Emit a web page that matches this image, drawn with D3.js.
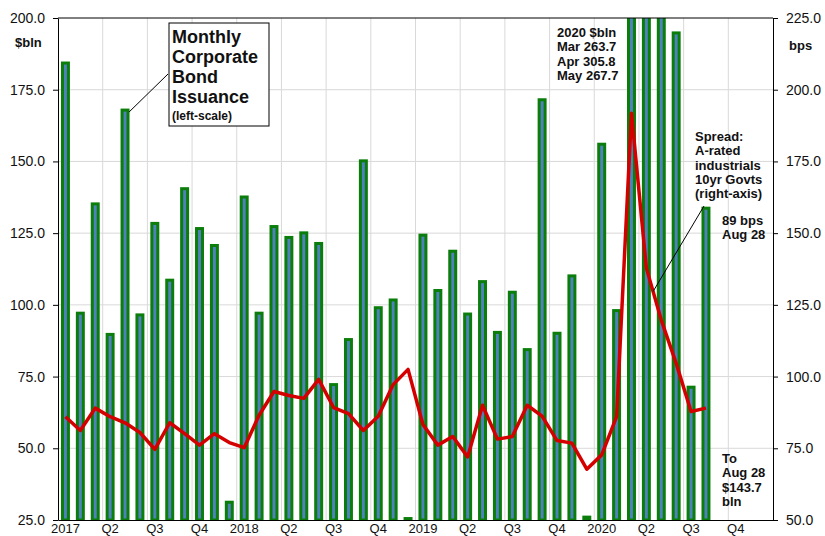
<!DOCTYPE html>
<html>
<head>
<meta charset="utf-8">
<script src="https://cdn.jsdelivr.net/npm/d3@7"></script>
<style>
  body { margin: 0; background: #fff; }
  svg { font-family: "Liberation Sans", Arial, sans-serif; }
  .grid line { stroke: #d9d9d9; stroke-width: 1; }
  .axis path, .axis line { stroke: #000; }
  .axis text { fill: #111; }
  .note { font-weight: bold; fill: #111; }
</style>
</head>
<body>
<div id="chart"></div>
<script>
const months = [
  "2017-01","2017-02","2017-03","2017-04","2017-05","2017-06","2017-07","2017-08","2017-09","2017-10","2017-11","2017-12",
  "2018-01","2018-02","2018-03","2018-04","2018-05","2018-06","2018-07","2018-08","2018-09","2018-10","2018-11","2018-12",
  "2019-01","2019-02","2019-03","2019-04","2019-05","2019-06","2019-07","2019-08","2019-09","2019-10","2019-11","2019-12",
  "2020-01","2020-02","2020-03","2020-04","2020-05","2020-06","2020-07","2020-08","2020-09","2020-10","2020-11","2020-12"
];
const quarterStarts = [
  "2017-01","2017-04","2017-07","2017-10","2018-01","2018-04","2018-07","2018-10",
  "2019-01","2019-04","2019-07","2019-10","2020-01","2020-04","2020-07","2020-10"
];
const quarterLabels = [
  "2017","Q2","Q3","Q4","2018","Q2","Q3","Q4",
  "2019","Q2","Q3","Q4","2020","Q2","Q3","Q4"
];

// monthly corporate bond issuance, $bln (left axis)
const issuance = [
  184.3, 97.1, 135.2, 89.7, 167.9, 96.5, 128.4, 108.6, 140.5, 126.6, 120.7, 31.2,
  137.6, 97.1, 127.3, 123.5, 125.1, 121.4, 72.2, 87.9, 150.2, 99.0, 101.7, 25.5,
  124.3, 105.0, 118.7, 96.8, 108.1, 90.4, 104.4, 84.4, 171.5, 90.1, 110.1, 26.0,
  156.0, 98.0, 263.7, 305.8, 267.7, 194.8, 71.3, 133.7
];

// spread A-rated industrials vs 10yr Govts, bps (right axis)
const spread = [
  86.0, 81.2, 89.0, 86.0, 83.9, 80.5, 74.6, 83.9, 80.1, 76.1, 80.1, 77.0,
  75.2, 86.5, 94.8, 93.4, 92.4, 99.0, 89.2, 87.1, 81.2, 86.2, 97.2, 102.5,
  83.3, 76.1, 79.1, 72.0, 90.0, 78.2, 79.1, 90.0, 86.2, 77.7, 76.8, 67.7,
  72.7, 86.0, 191.8, 137.8, 119.7, 104.6, 87.8, 89.0
];

const leftTicks = [25, 50, 75, 100, 125, 150, 175, 200];
const rightTicks = [50, 75, 100, 125, 150, 175, 200, 225];

const width = 825, height = 536;
const plot = { left: 58, right: 773, top: 18, bottom: 520 };

const svg = d3.select("#chart").append("svg")
  .attr("width", width)
  .attr("height", height);

const x = d3.scaleBand().domain(months).range([plot.left, plot.right]).padding(0);
const yL = d3.scaleLinear().domain([25, 200]).range([plot.bottom, plot.top]);
const yR = d3.scaleLinear().domain([50, 225]).range([plot.bottom, plot.top]);

svg.append("defs").append("clipPath").attr("id", "clip")
  .append("rect")
  .attr("x", plot.left).attr("y", plot.top)
  .attr("width", plot.right - plot.left).attr("height", plot.bottom - plot.top);

// gridlines =========
const grid = svg.append("g").attr("class", "grid");
grid.selectAll("line.h")
  .data(leftTicks.slice(1, -1))
  .enter().append("line")
  .attr("x1", plot.left).attr("x2", plot.right)
  .attr("y1", d => yL(d)).attr("y2", d => yL(d));
grid.selectAll("line.v")
  .data(quarterStarts.slice(1))
  .enter().append("line")
  .attr("x1", d => x(d)).attr("x2", d => x(d))
  .attr("y1", plot.top).attr("y2", plot.bottom);

// bars =========
const barW = x.bandwidth() * 0.4;
svg.append("g")
  .attr("clip-path", "url(#clip)")
  .selectAll("rect")
  .data(issuance)
  .enter().append("rect")
  .attr("x", (d, i) => x(months[i]) + x.bandwidth() / 2 - barW / 2)
  .attr("y", d => yL(d))
  .attr("width", barW)
  .attr("height", d => Math.max(0, yL(25) - yL(d)))
  .attr("fill", "#4f81bd")
  .attr("stroke", "#0a7d0a")
  .attr("stroke-width", 3);

// spread line =========
const line = d3.line()
  .x((d, i) => x(months[i]) + x.bandwidth() / 2)
  .y(d => yR(d));

svg.append("path")
  .datum(spread)
  .attr("fill", "none")
  .attr("stroke", "#d40000")
  .attr("stroke-width", 3.5)
  .attr("stroke-linejoin", "round")
  .attr("d", line);

// axes =========
svg.append("line")
  .attr("x1", plot.left).attr("x2", plot.right)
  .attr("y1", plot.top).attr("y2", plot.top)
  .attr("stroke", "#000");

svg.append("g")
  .attr("class", "axis")
  .attr("transform", `translate(${plot.left},0)`)
  .call(d3.axisLeft(yL).tickValues(leftTicks).tickFormat(d3.format(".1f")).tickSizeInner(5).tickSizeOuter(0).tickPadding(8))
  .selectAll("text").style("font-size", "14px");

svg.append("g")
  .attr("class", "axis")
  .attr("transform", `translate(${plot.right},0)`)
  .call(d3.axisRight(yR).tickValues(rightTicks).tickFormat(d3.format(".1f")).tickSizeInner(5).tickSizeOuter(0).tickPadding(8))
  .selectAll("text").style("font-size", "14px");

const xAxis = svg.append("g")
  .attr("class", "axis")
  .attr("transform", `translate(0,${plot.bottom})`)
  .call(d3.axisBottom(x)
    .tickValues(quarterStarts)
    .tickFormat((d, i) => quarterLabels[i])
    .tickSize(0).tickPadding(4));
xAxis.selectAll("text").style("font-size", "13px");

// annotations =========
svg.append("text").attr("class", "note").attr("x", 15).attr("y", 47)
  .style("font-size", "13px").text("$bln");
svg.append("text").attr("class", "note").attr("x", 789).attr("y", 50)
  .style("font-size", "13px").text("bps");

// issuance box
const bx = x(months[4]) + x.bandwidth() / 2 + barW / 2 + 1;
svg.append("line")
  .attr("x1", 168).attr("y1", 74)
  .attr("x2", bx).attr("y2", yL(issuance[4]) + 2)
  .attr("stroke", "#000").attr("stroke-width", 1);
svg.append("rect")
  .attr("x", 169).attr("y", 23).attr("width", 100).attr("height", 103)
  .attr("fill", "#fff").attr("stroke", "#000").attr("stroke-width", 1);
const boxLines = ["Monthly", "Corporate", "Bond", "Issuance"];
svg.append("g").selectAll("text")
  .data(boxLines)
  .enter().append("text")
  .attr("class", "note")
  .attr("x", 172)
  .attr("y", (d, i) => 43 + i * 20)
  .style("font-size", "18px")
  .text(d => d);
svg.append("text").attr("class", "note").attr("x", 172).attr("y", 120)
  .style("font-size", "12px").text("(left-scale)");

function block(lines, x0, y0, lh) {
  svg.append("g").selectAll("text")
    .data(lines)
    .enter().append("text")
    .attr("class", "note")
    .attr("x", x0)
    .attr("y", (d, i) => y0 + i * lh)
    .style("font-size", "13px")
    .text(d => d);
}
block(["2020 $bln", "Mar 263.7", "Apr 305.8", "May 267.7"], 557, 37, 14.3);
block(["Spread:", "A-rated", "industrials", "10yr Govts", "(right-axis)"], 695, 141, 14.3);
block(["89 bps", "Aug 28"], 722, 225, 14.3);
block(["To", "Aug 28", "$143.7", "bln"], 722, 463, 14.3);

// leader to spread line, between Apr and May 2020
const ax = x(months[39]) + x.bandwidth() / 2, ay = yR(spread[39]);
const mx = x(months[40]) + x.bandwidth() / 2, my = yR(spread[40]);
const t = 0.45;
svg.append("line")
  .attr("x1", 704).attr("y1", 206)
  .attr("x2", ax + (mx - ax) * t).attr("y2", ay + (my - ay) * t)
  .attr("stroke", "#000").attr("stroke-width", 1);
</script>
</body>
</html>
